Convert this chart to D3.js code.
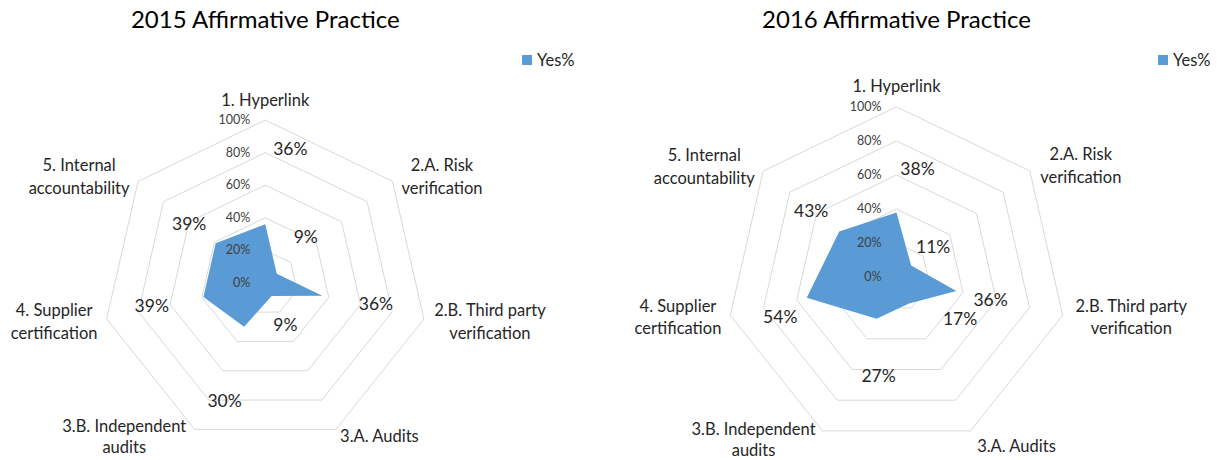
<!DOCTYPE html>
<html>
<head>
<meta charset="utf-8">
<script src="https://cdn.jsdelivr.net/npm/d3@7"></script>
<style>
  html, body { margin: 0; padding: 0; background: #fff; }
  svg { display: block; }
  text { font-family: Lato, "Open Sans", sans-serif; }
</style>
</head>
<body>
<svg id="chart" width="1225" height="460"></svg>
<script>
// ---------- data ----------
const categories = [
  "1. Hyperlink",
  "2.A. Risk verification",
  "2.B. Third party verification",
  "3.A. Audits",
  "3.B. Independent audits",
  "4. Supplier certification",
  "5. Internal accountability"
];
const categoryLines = [
  ["1. Hyperlink"],
  ["2.A. Risk", "verification"],
  ["2.B. Third party", "verification"],
  ["3.A. Audits"],
  ["3.B. Independent", "audits"],
  ["4. Supplier", "certification"],
  ["5. Internal", "accountability"]
];
const values2015 = [36, 9, 36, 9, 30, 39, 39];
const values2016 = [38, 11, 36, 17, 27, 54, 43];
const tickValues = [0, 20, 40, 60, 80, 100];
const tickLabels = ["0%", "20%", "40%", "60%", "80%", "100%"];
const seriesName = "Yes%";
const titles = ["2015 Affirmative Practice", "2016 Affirmative Practice"];

// ---------- layout (positions / styles only) ----------
const layouts = [
  {
    cx: 265.3, cy: 282.8, R: 162.7, legendX: 522,
    // category label anchor offsets from each outer vertex (centre x, first baseline)
    catOffsets: [[0, -14], [49.5, -10], [66, -3], [43.5, 12.3], [-70.5, 2.3], [-52.6, -3], [-59, -10]],
    lineGap: [22.5, 22.5, 22.5, 22.5, 21.5, 22.5, 22.5],
    // data label offsets from each data point (centre x, baseline)
    labelOffsets: [[25, -69.5], [29, -31], [53.5, 14], [13.7, 35], [-19.5, 80], [-51.7, 14.6], [-26.5, -13.5]]
  },
  {
    cx: 896.5, cy: 277.3, R: 170.5, legendX: 1158,
    catOffsets: [[0, -14.6], [51, -10.6], [68.6, -3.4], [46, 21.2], [-69, 4.5], [-52.3, -3.4], [-59, -9.6]],
    lineGap: [22.5, 22.5, 22.5, 22.5, 21.0, 22.5, 22.5],
    labelOffsets: [[21, -37.7], [22, -12.3], [34.3, 15.1], [51, 21.7], [2, 63], [-26.5, 25.6], [-28, -15]]
  }
];
const seriesData = [values2015, values2016];

const fillColor = "#5b9bd5";
const ringColor = "#d9d9d9";
const textColor = "#262626";

const svg = d3.select("#chart");
const n = categories.length;
const angle = d3.scaleLinear().domain([0, n]).range([0, 2 * Math.PI]);

layouts.forEach((L, ci) => {
  const values = seriesData[ci];
  const r = d3.scaleLinear().domain([0, 100]).range([0, L.R]);
  const g = svg.append("g").attr("transform", `translate(${L.cx},${L.cy})`);
  const pt = (i, v) => [Math.sin(angle(i)) * r(v), -Math.cos(angle(i)) * r(v)];

  // title
  svg.append("text")
    .attr("x", L.cx).attr("y", 28)
    .attr("text-anchor", "middle")
    .attr("font-size", 24)
    .attr("fill", "#000")
    .text(titles[ci]);

  // legend
  svg.append("rect")
    .attr("x", L.legendX).attr("y", 55)
    .attr("width", 10).attr("height", 10)
    .attr("fill", fillColor);
  svg.append("text")
    .attr("x", L.legendX + 15).attr("y", 66)
    .attr("font-size", 16.5)
    .attr("fill", textColor)
    .text(seriesName);

  // rings
  const ring = d3.lineRadial()
    .angle((d, i) => angle(i))
    .radius(d => r(d))
    .curve(d3.curveLinearClosed);
  tickValues.filter(t => t > 0).forEach(t => {
    g.append("path")
      .attr("d", ring(d3.range(n).map(() => t)))
      .attr("fill", "none")
      .attr("stroke", ringColor)
      .attr("stroke-width", 1);
  });

  // series area
  g.append("path")
    .attr("d", ring(values))
    .attr("fill", fillColor)
    .attr("stroke", "none");

  // tick labels
  tickValues.forEach((t, i) => {
    g.append("text")
      .attr("x", -15)
      .attr("y", -r(t) + 1)
      .attr("text-anchor", "end")
      .attr("dominant-baseline", "middle")
      .attr("font-size", 12.5)
      .attr("fill", "#404040")
      .text(tickLabels[i]);
  });

  // category labels
  categoryLines.forEach((lines, i) => {
    const [vx, vy] = pt(i, 100);
    const [dx, dy] = L.catOffsets[i];
    const t = g.append("text")
      .attr("text-anchor", "middle")
      .attr("font-size", 16.5)
      .attr("fill", textColor);
    lines.forEach((ln, j) => {
      t.append("tspan")
        .attr("x", vx + dx)
        .attr("y", vy + dy + j * L.lineGap[i])
        .text(ln);
    });
  });

  // data labels
  values.forEach((v, i) => {
    const [px, py] = pt(i, v);
    const [dx, dy] = L.labelOffsets[i];
    g.append("text")
      .attr("x", px + dx)
      .attr("y", py + dy)
      .attr("text-anchor", "middle")
      .attr("font-size", 17.5)
      .attr("fill", textColor)
      .text(v + "%");
  });
});
</script>
</body>
</html>
